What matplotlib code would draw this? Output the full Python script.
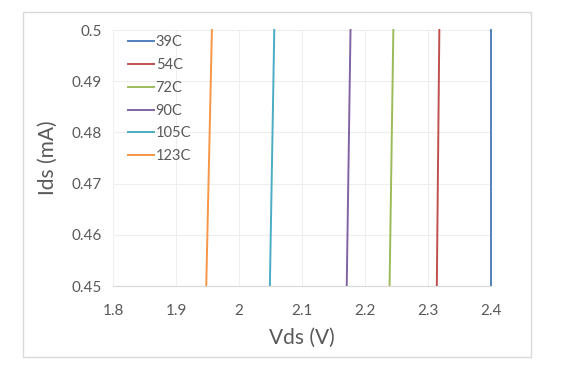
import matplotlib.pyplot as plt
from matplotlib.patches import Rectangle

# series: Vds at Ids=0.45 and at Ids=0.5 (lines are nearly vertical)
labels = ['39C', '54C', '72C', '90C', '105C', '123C']
ids = [0.45, 0.5]
vds = [
    [2.400, 2.400],
    [2.314, 2.318],
    [2.239, 2.245],
    [2.171, 2.177],
    [2.049, 2.056],
    [1.948, 1.957],
]
colors = ['#4F81BD', '#C0504D', '#9BBB59', '#8064A2', '#4BACC6', '#F79646']

xticks = [1.8, 1.9, 2.0, 2.1, 2.2, 2.3, 2.4]
xticklabels = ['1.8', '1.9', '2', '2.1', '2.2', '2.3', '2.4']
yticks = [0.45, 0.46, 0.47, 0.48, 0.49, 0.5]
yticklabels = ['0.45', '0.46', '0.47', '0.48', '0.49', '0.5']

plt.rcParams['font.family'] = ['Lato', 'DejaVu Sans']
txt = '#595959'

fig = plt.figure(figsize=(5.74, 3.73), dpi=100)
ax = fig.add_axes([113/574, 1 - 286/373, (491 - 113)/574, (286 - 30)/373])

for lab, xs, c in zip(labels, vds, colors):
    ax.plot(xs, ids, color=c, lw=1.4, label=lab, clip_on=False)

ax.set_xlim(1.8, 2.4)
ax.set_ylim(0.45, 0.5)
ax.set_xticks(xticks)
ax.set_xticklabels(xticklabels)
ax.set_yticks(yticks)
ax.set_yticklabels(yticklabels)
ax.tick_params(colors=txt, labelsize=11, length=0)
ax.tick_params(axis='x', pad=13)
ax.tick_params(axis='y', pad=8)
ax.grid(True, color='#EEEEEE', lw=0.8)
ax.set_axisbelow(True)
for s in ['top', 'right', 'left']:
    ax.spines[s].set_visible(False)
ax.spines['bottom'].set_color('#D9D9D9')

ax.set_xlabel('Vds (V)', color=txt, fontsize=15, labelpad=7)
ax.set_ylabel('Ids (mA)', color=txt, fontsize=15, labelpad=10)

ax.legend(loc='upper left', frameon=False, fontsize=10.5, handlelength=1.8,
          handletextpad=0.1, labelspacing=0.6, labelcolor=txt,
          bbox_to_anchor=(0.005, 1.03))

# outer chart frame
fig.patches.append(Rectangle((23/574, 1 - 357/373), (531 - 23)/574, (357 - 12)/373,
                             transform=fig.transFigure, fill=False,
                             edgecolor='#D9D9D9', lw=1))

fig.savefig('out.png', dpi=100)
